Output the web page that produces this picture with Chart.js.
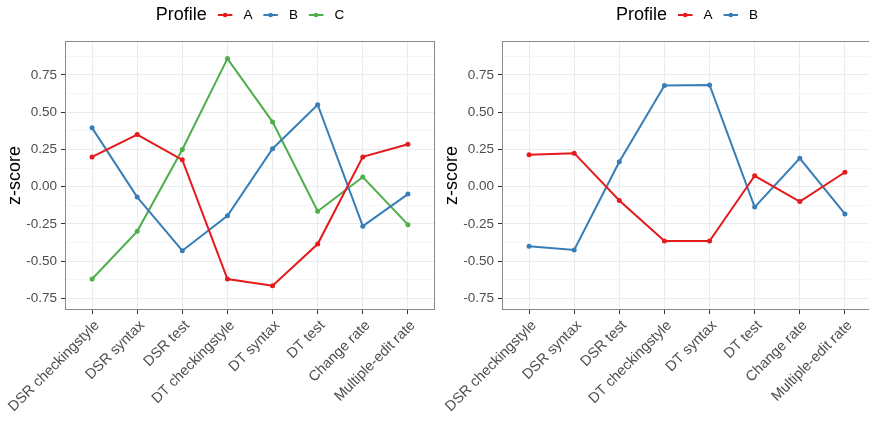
<!DOCTYPE html>
<html>
<head>
<meta charset="utf-8">
<script src="https://cdn.jsdelivr.net/npm/chart.js@4.4.1/dist/chart.umd.min.js"></script>
<style>
  html, body { margin: 0; padding: 0; background: #ffffff; overflow: hidden; width: 869px; height: 426px; }
  .wrap { position: absolute; top: 0; width: 440px; height: 426px; }
  #w1 { left: 0; }
  #w2 { left: 437px; }
</style>
</head>
<body>
<div class="wrap" id="w1"><canvas id="c1" width="440" height="426"></canvas></div>
<div class="wrap" id="w2"><canvas id="c2" width="440" height="426"></canvas></div>
<script>
// ---- data ----
const categories = ["DSR checkingstyle", "DSR syntax", "DSR test", "DT checkingstyle", "DT syntax", "DT test", "Change rate", "Multiple-edit rate"];
const yMajorTicks = [-0.75, -0.5, -0.25, 0, 0.25, 0.5, 0.75];
const yMinorTicks = [-0.625, -0.375, -0.125, 0.125, 0.375, 0.625, 0.875];
const yTickLabels = ["-0.75", "-0.50", "-0.25", "0.00", "0.25", "0.50", "0.75"];

// left panel (3 profiles)
const left_A = [0.20, 0.35, 0.18, -0.62, -0.665, -0.385, 0.20, 0.285];
const left_B = [0.395, -0.07, -0.43, -0.195, 0.255, 0.55, -0.265, -0.05];
const left_C = [-0.62, -0.30, 0.25, 0.86, 0.435, -0.165, 0.065, -0.255];
// right panel (2 profiles)
const right_A = [0.215, 0.225, -0.093, -0.365, -0.365, 0.073, -0.10, 0.097];
const right_B = [-0.40, -0.425, 0.167, 0.68, 0.683, -0.137, 0.19, -0.183];

const legendTitle = "Profile";
const yTitle = "z-score";
const colors = { A: "#E41A1C", B: "#377EB8", C: "#4DAF4A" };

const FONT = "'Liberation Sans', Arial, Helvetica, sans-serif";

const ggLegend = {
  id: 'ggLegend',
  afterDraw(chart) {
    const ctx = chart.ctx;
    const area = chart.chartArea;
    const items = chart.data.datasets.map(d => ({ label: d.label, color: d.borderColor }));
    ctx.save();
    ctx.textBaseline = 'middle';
    ctx.font = '18px ' + FONT;
    const tW = ctx.measureText(legendTitle).width;
    ctx.font = '13.5px ' + FONT;
    const gap = 11, lineLen = 14.5;
    let total = tW;
    items.forEach(it => { total += gap + lineLen + gap + ctx.measureText(it.label).width; });
    const cx = (area.left + area.right) / 2;
    let x = cx - total / 2;
    const y = 15;
    ctx.fillStyle = '#000000';
    ctx.font = '18px ' + FONT;
    ctx.textAlign = 'left';
    ctx.fillText(legendTitle, x, y);
    x += tW;
    ctx.font = '13.5px ' + FONT;
    items.forEach(it => {
      x += gap;
      ctx.strokeStyle = it.color;
      ctx.lineWidth = 2;
      ctx.beginPath();
      ctx.moveTo(x, y); ctx.lineTo(x + lineLen, y);
      ctx.stroke();
      ctx.fillStyle = it.color;
      ctx.beginPath();
      ctx.arc(x + lineLen / 2, y, 2.3, 0, Math.PI * 2);
      ctx.fill();
      x += lineLen + gap;
      ctx.fillStyle = '#000000';
      ctx.fillText(it.label, x, y);
      x += ctx.measureText(it.label).width;
    });
    ctx.restore();
  }
};

const panelBorder = {
  id: 'panelBorder',
  beforeDraw(chart) {
    const ctx = chart.ctx;
    ctx.save();
    ctx.fillStyle = '#ffffff';
    ctx.fillRect(0, 0, chart.width, chart.height);
    ctx.restore();
  },
  afterDatasetsDraw(chart) {
    const a = chart.chartArea;
    const ctx = chart.ctx;
    ctx.save();
    ctx.strokeStyle = '#8a8a8a';
    ctx.lineWidth = 1;
    ctx.strokeRect(Math.round(a.left) + 0.5, Math.round(a.top) + 0.5, Math.round(a.right - a.left) - 1, Math.round(a.bottom - a.top) - 1);
    ctx.restore();
  }
};

function makeChart(id, series) {
  const datasets = series.map(s => ({
    label: s.name,
    data: s.values.map((v, i) => ({ x: i, y: v })),
    borderColor: colors[s.name],
    backgroundColor: colors[s.name],
    borderWidth: 2,
    pointRadius: 2.5,
    pointBorderWidth: 0,
    pointHoverRadius: 2.5,
    tension: 0,
    fill: false
  }));
  return new Chart(document.getElementById(id), {
    type: 'line',
    data: { datasets },
    plugins: [panelBorder, ggLegend],
    options: {
      responsive: false,
      animation: false,
      events: [],
      layout: { padding: { top: 41, right: 5, left: 0, bottom: 0 } },
      plugins: { legend: { display: false }, tooltip: { enabled: false } },
      scales: {
        x: {
          type: 'linear',
          min: -0.6,
          max: categories.length - 1 + 0.6,
          afterBuildTicks: (scale) => { scale.ticks = categories.map((c, i) => ({ value: i })); },
          afterFit: (scale) => {
            scale.height = 116;
            scale.paddingLeft = 0;
            scale.paddingRight = 0;
          },
          border: { display: false },
          grid: {
            color: '#ebebeb',
            lineWidth: 1,
            drawTicks: true,
            tickLength: 4,
            tickColor: '#333333',
            tickWidth: 1
          },
          ticks: {
            autoSkip: false,
            maxRotation: 45,
            minRotation: 45,
            padding: 3,
            labelOffset: 5,
            color: '#4d4d4d',
            font: { family: FONT, size: 14.5 },
            callback: (v) => categories[Math.round(v)]
          }
        },
        y: {
          type: 'linear',
          min: -0.828,
          max: 0.978,
          afterBuildTicks: (scale) => {
            const all = yMajorTicks.concat(yMinorTicks).sort((a, b) => a - b);
            scale.ticks = all.map(v => ({ value: v }));
          },
          afterFit: (scale) => {
            scale.width = 65;
            scale.paddingTop = 0;
            scale.paddingBottom = 0;
          },
          border: { display: false },
          title: {
            display: true,
            text: yTitle,
            color: '#000000',
            font: { family: FONT, size: 18 },
            padding: { top: 4, bottom: 0 }
          },
          grid: {
            color: (c) => yMajorTicks.includes(c.tick && c.tick.value) ? '#ebebeb' : '#f2f2f2',
            lineWidth: (c) => yMajorTicks.includes(c.tick && c.tick.value) ? 1 : 0.7,
            drawTicks: true,
            tickLength: 4,
            tickColor: (c) => yMajorTicks.includes(c.tick && c.tick.value) ? '#333333' : 'rgba(0,0,0,0)',
            tickWidth: 1
          },
          ticks: {
            autoSkip: false,
            padding: 4,
            color: '#4d4d4d',
            font: { family: FONT, size: 13.5 },
            callback: (v) => {
              const i = yMajorTicks.indexOf(v);
              return i >= 0 ? yTickLabels[i] : '';
            }
          }
        }
      }
    }
  });
}

makeChart('c1', [
  { name: 'A', values: left_A },
  { name: 'B', values: left_B },
  { name: 'C', values: left_C }
]);
makeChart('c2', [
  { name: 'A', values: right_A },
  { name: 'B', values: right_B }
]);
</script>
</body>
</html>
